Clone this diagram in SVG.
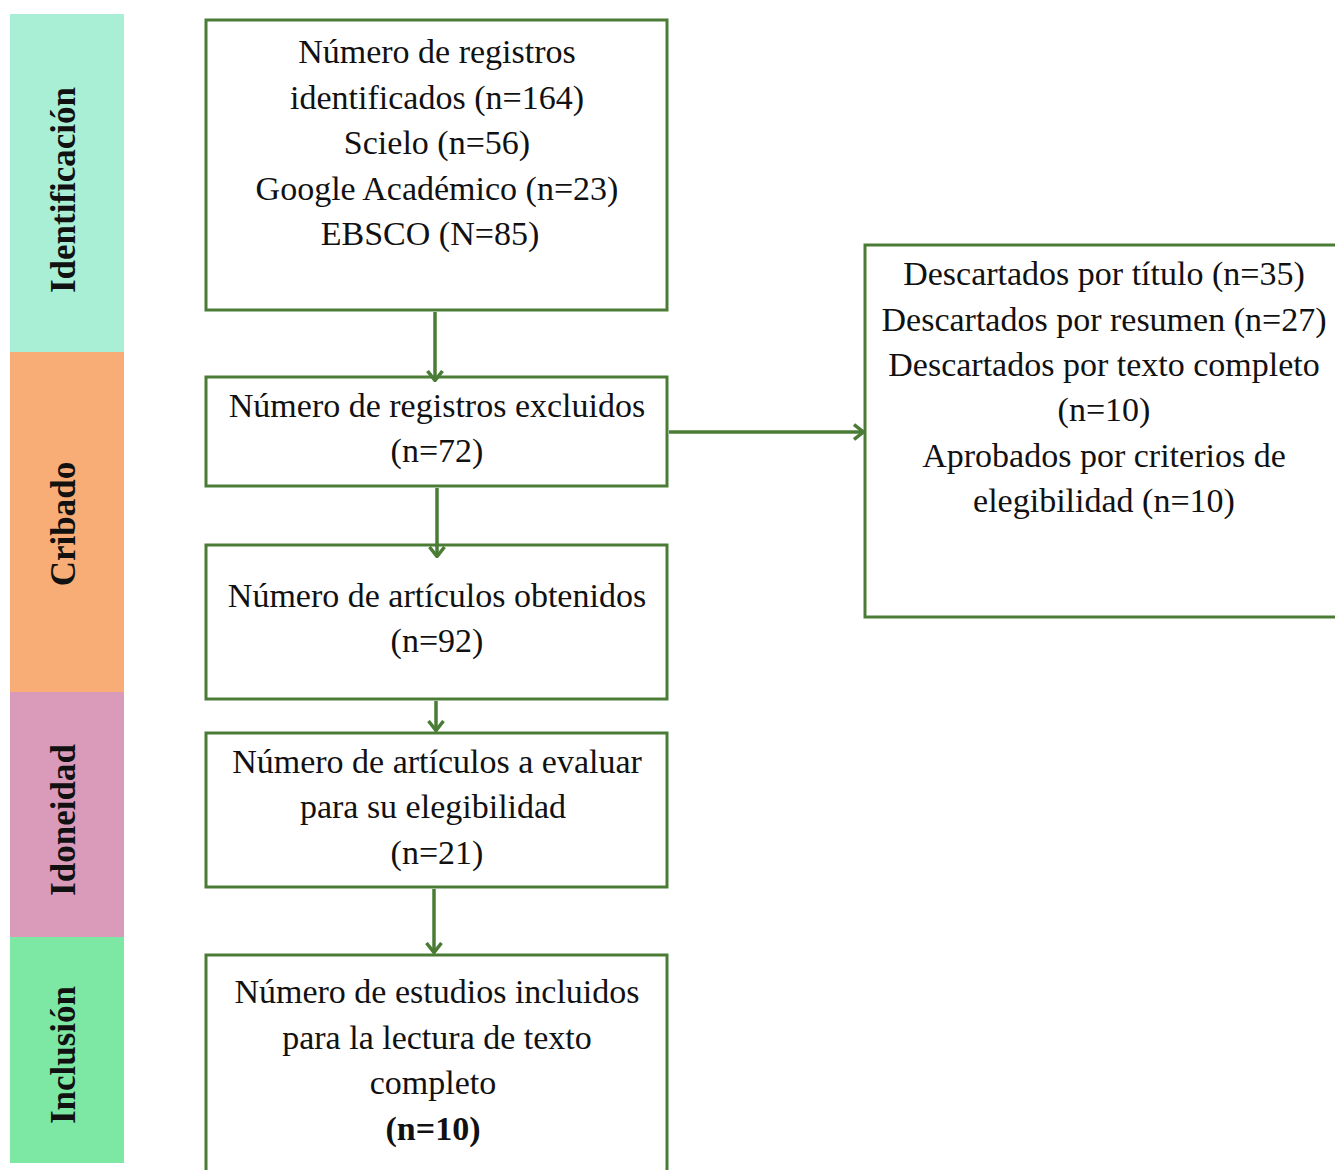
<svg xmlns="http://www.w3.org/2000/svg" width="1335" height="1170" viewBox="0 0 1335 1170">
<style>
.box{fill:#fff;stroke:#4a7c36;stroke-width:3}
.t{font-family:"Liberation Serif","Times New Roman",serif;font-size:34px;fill:#111;text-anchor:middle}
.side{font-family:"Liberation Serif","Times New Roman",serif;font-size:35px;font-weight:bold;fill:#111;text-anchor:middle}
.c{stroke:#4a7c36;stroke-width:3.5;fill:none}
</style>
<defs>
<marker id="ah" viewBox="0 0 12 18" refX="11" refY="9" markerWidth="12" markerHeight="18" markerUnits="userSpaceOnUse" orient="auto">
<path d="M1,1.5 L10.5,9 L1,16.5" fill="none" stroke="#4a7c36" stroke-width="3.5"/>
</marker>
</defs>
<rect width="1335" height="1170" fill="#fff"/>
<g id="phases">
<rect x="10" y="14" width="114" height="338" fill="#a8efd6"/>
<rect x="10" y="352" width="114" height="340" fill="#f7ad75"/>
<rect x="10" y="692" width="114" height="245" fill="#da9bbb"/>
<rect x="10" y="937" width="114" height="226" fill="#7de8a4"/>
<text class="side" transform="translate(75,190) rotate(-90)">Identificación</text>
<text class="side" transform="translate(75,524) rotate(-90)">Cribado</text>
<text class="side" transform="translate(75,820) rotate(-90)">Idoneidad</text>
<text class="side" transform="translate(75,1055) rotate(-90)">Inclusión</text>
</g>
<g id="n1">
<rect class="box" x="206" y="20" width="461" height="290"/>
<text class="t" x="437" y="63">Número de registros</text>
<text class="t" x="437" y="109">identificados (n=164)</text>
<text class="t" x="437" y="154">Scielo (n=56)</text>
<text class="t" x="437" y="200">Google Académico (n=23)</text>
<text class="t" x="430" y="245">EBSCO (N=85)</text>
</g>
<g id="n2">
<rect class="box" x="206" y="377" width="461" height="109"/>
<text class="t" x="437" y="417">Número de registros excluidos</text>
<text class="t" x="437" y="462">(n=72)</text>
</g>
<g id="n3">
<rect class="box" x="206" y="545" width="461" height="154"/>
<text class="t" x="437" y="607">Número de artículos obtenidos</text>
<text class="t" x="437" y="652">(n=92)</text>
</g>
<g id="n4">
<rect class="box" x="206" y="733" width="461" height="154"/>
<text class="t" x="437" y="773">Número de artículos a evaluar</text>
<text class="t" x="433" y="818">para su elegibilidad</text>
<text class="t" x="437" y="864">(n=21)</text>
</g>
<g id="n5">
<rect class="box" x="206" y="955" width="461" height="230"/>
<text class="t" x="437" y="1003">Número de estudios incluidos</text>
<text class="t" x="437" y="1049">para la lectura de texto</text>
<text class="t" x="433" y="1094">completo</text>
<text class="t" x="433" y="1140" font-weight="bold">(n=10)</text>
</g>
<g id="n6">
<rect class="box" x="865" y="245" width="480" height="372"/>
<text class="t" x="1104" y="285">Descartados por título (n=35)</text>
<text class="t" x="1104" y="331">Descartados por resumen (n=27)</text>
<text class="t" x="1104" y="376">Descartados por texto completo</text>
<text class="t" x="1104" y="421">(n=10)</text>
<text class="t" x="1104" y="467">Aprobados por criterios de</text>
<text class="t" x="1104" y="512">elegibilidad (n=10)</text>
</g>
<g id="connectors">
<line class="c" x1="435" y1="312" x2="435" y2="381" marker-end="url(#ah)"/>
<line class="c" x1="437" y1="488" x2="437" y2="557" marker-end="url(#ah)"/>
<line class="c" x1="436" y1="701" x2="436" y2="731" marker-end="url(#ah)"/>
<line class="c" x1="434" y1="889" x2="434" y2="953" marker-end="url(#ah)"/>
<line class="c" x1="669" y1="432" x2="864" y2="432" marker-end="url(#ah)"/>
</g>
</svg>
